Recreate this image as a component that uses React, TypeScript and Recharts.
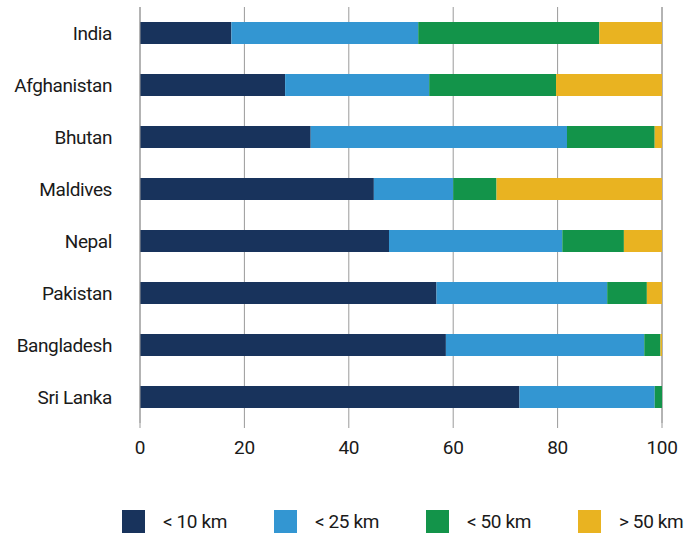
import { BarChart, Bar, XAxis, YAxis, CartesianGrid } from 'recharts'

const countries = ['India', 'Afghanistan', 'Bhutan', 'Maldives', 'Nepal', 'Pakistan', 'Bangladesh', 'Sri Lanka']
const under10 = [17.5, 27.8, 32.7, 44.8, 47.7, 56.8, 58.6, 72.7]
const under25 = [35.8, 27.6, 49.1, 15.2, 33.2, 32.7, 38.0, 25.9]
const under50 = [34.7, 24.3, 16.8, 8.3, 11.8, 7.6, 3.1, 1.4]
const over50 = [12.0, 20.3, 1.4, 31.7, 7.3, 2.9, 0.3, 0]
const xTicks = [0, 20, 40, 60, 80, 100]

const seriesDefs = [
  { key: 'a', label: '< 10 km', color: '#18335c' },
  { key: 'b', label: '< 25 km', color: '#3396d2' },
  { key: 'c', label: '< 50 km', color: '#13944a' },
  { key: 'd', label: '> 50 km', color: '#e9b321' },
]

const data = countries.map((name, i) => ({
  name,
  a: under10[i],
  b: under25[i],
  c: under50[i],
  d: over50[i],
}))

const font = 'Roboto, "Noto Sans", sans-serif'

export default function App() {
  return (
    <div style={{ position: 'absolute', left: 0, top: 0, width: 693, height: 534, background: '#fff', fontFamily: font }}>
      <BarChart
        layout="vertical"
        width={693}
        height={475}
        data={data}
        margin={{ top: 7, right: 31, left: 0, bottom: 0 }}
        barCategoryGap={0}
      >
        <CartesianGrid horizontal={false} stroke="#9a9a9a" strokeWidth={1} />
        <XAxis
          type="number"
          domain={[0, 100]}
          ticks={xTicks}
          axisLine={false}
          tickLine={{ stroke: '#9a9a9a' }}
          tickSize={5}
          tickMargin={13}
          height={52}
          tick={{ fill: '#1a1a1a', fontSize: 19, fontFamily: font, letterSpacing: -0.3 }}
        />
        <YAxis
          type="category"
          dataKey="name"
          width={140}
          axisLine={{ stroke: '#9a9a9a' }}
          tickLine={false}
          tickSize={0}
          tickMargin={28}
          tick={{ fill: '#1a1a1a', fontSize: 19, fontFamily: font, letterSpacing: -0.4 }}
        />
        {seriesDefs.map((s) => (
          <Bar key={s.key} dataKey={s.key} stackId="x" fill={s.color} barSize={22} isAnimationActive={false} />
        ))}
      </BarChart>
      <div style={{ position: 'absolute', left: 122, top: 510, display: 'flex', alignItems: 'center' }}>
        {seriesDefs.map((s) => (
          <div key={s.key} style={{ display: 'flex', alignItems: 'center', width: 152 }}>
            <span style={{ width: 23, height: 23, background: s.color, display: 'inline-block', marginRight: 18 }} />
            <span style={{ fontSize: 19, color: '#1a1a1a', letterSpacing: -0.4 }}>{s.label}</span>
          </div>
        ))}
      </div>
    </div>
  )
}
